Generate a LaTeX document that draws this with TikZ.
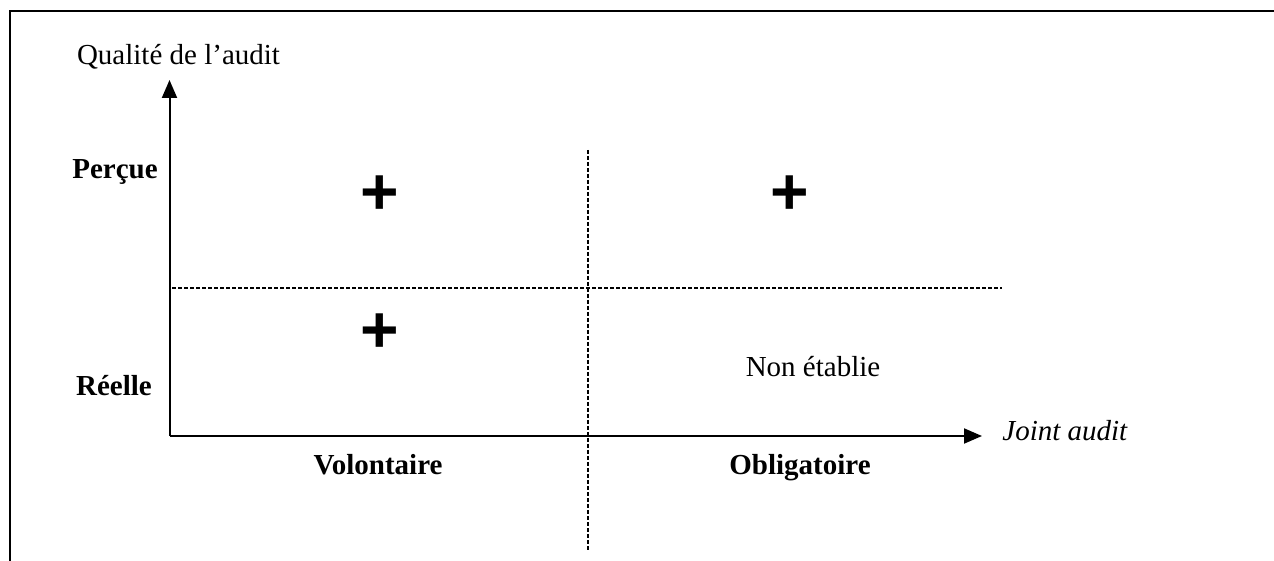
\documentclass[tikz,border=0pt]{standalone}
\usepackage{fontspec}
\setmainfont{Liberation Serif}
\newfontfamily\plusfont{Liberation Sans}
\usetikzlibrary{arrows.meta}
\tikzset{axis/.style = {line width = 1pt, -{Triangle[length = 9pt, width = 7.5pt]}}}
\tikzset{divider/.style = {line width = 1.1pt, dash pattern = on 2.2pt off 0.8pt}}
\tikzset{lbl/.style = {inner sep = 0, anchor = base, font = \fontsize{14.5}{17}\selectfont}}
\tikzset{blbl/.style = {lbl, font = \fontsize{14.5}{17}\selectfont\bfseries}}
\tikzset{plus/.style = {inner sep = 0, font = \plusfont\bfseries\fontsize{33}{33}\selectfont}}

\begin{document}
\begin{tikzpicture}[x = 0.5pt, y = -0.5pt]
    \useasboundingbox (0, 0) rectangle (1274, 561);
    % frame
    \draw [line width = 1pt] (9.5, 561) -- (9.5, 11.5) -- (1274, 11.5);
    % axes
    \coordinate (o) at (169.5, 436);
    \coordinate (ytip) at (169.5, 80);
    \coordinate (xtip) at (982, 436);
    \draw [axis] (o) -- (ytip);
    \draw [axis] (o) -- (xtip);
    % quadrants
    \coordinate (hl) at (172, 288);
    \coordinate (hr) at (1002, 288);
    \coordinate (vt) at (588, 150);
    \coordinate (vb) at (588, 550);
    \draw [divider] (hl) -- (hr);
    \draw [divider] (vt) -- (vb);
    \node [lbl] (qual) at (178.5, 65) {Qualité de l’audit};
    \node [lbl, anchor = base west] (joint) at (1002, 440) {\itshape Joint audit};
    \node [blbl] (percue) at (115, 179) {Perçue};
    \node [blbl] (reelle) at (114, 395) {Réelle};
    \node [blbl] (volont) at (378, 474) {Volontaire};
    \node [blbl] (oblig) at (800, 474) {Obligatoire};
    \node [plus] (pvp) at (380, 195) {+};
    \node [plus] (pop) at (790, 195) {+};
    \node [plus] (pvr) at (380, 333) {+};
    \node [lbl] (nonet) at (813, 376) {Non établie};
\end{tikzpicture}
\end{document}
